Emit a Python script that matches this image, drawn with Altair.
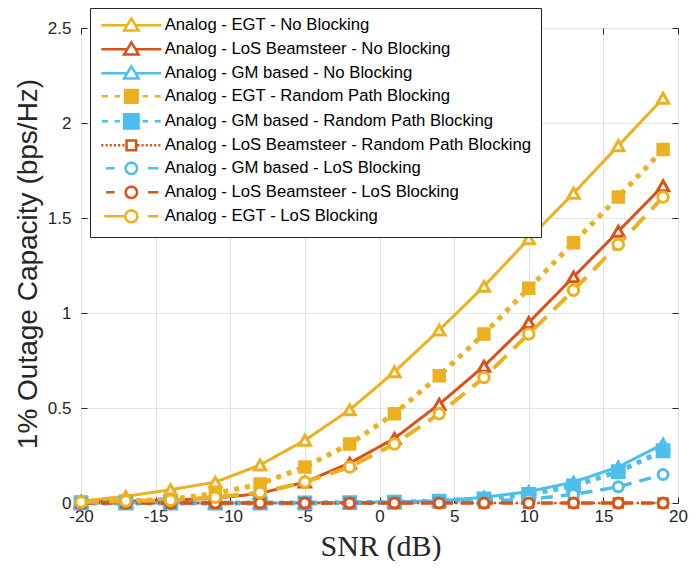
import math
import altair as alt
import pandas as pd

# ---------------- data ----------------
snr = [-20, -17, -14, -11, -8, -5, -2, 1, 4, 7, 10, 13, 16, 19]

series_names = [
    "Analog - EGT - No Blocking",
    "Analog - LoS Beamsteer - No Blocking",
    "Analog - GM based - No Blocking",
    "Analog - EGT - Random Path Blocking",
    "Analog - GM based - Random Path Blocking",
    "Analog - LoS Beamsteer - Random Path Blocking",
    "Analog - GM based - LoS Blocking",
    "Analog - LoS Beamsteer - LoS Blocking",
    "Analog - EGT - LoS Blocking",
]

egt_nb = [0.01, 0.035, 0.07, 0.11, 0.20, 0.33, 0.49, 0.69, 0.91, 1.14, 1.39, 1.63, 1.88, 2.13]
los_nb = [0.005, 0.01, 0.015, 0.025, 0.05, 0.11, 0.21, 0.34, 0.52, 0.72, 0.95, 1.19, 1.43, 1.67]
gm_nb = [0.0, 0.0, 0.0, 0.0, 0.0, 0.0, 0.003, 0.006, 0.012, 0.03, 0.06, 0.11, 0.19, 0.31]
egt_rp = [0.005, 0.01, 0.02, 0.05, 0.10, 0.19, 0.31, 0.47, 0.67, 0.89, 1.13, 1.37, 1.61, 1.86]
gm_rp = [0.0, 0.0, 0.0, 0.0, 0.0, 0.0, 0.002, 0.004, 0.01, 0.022, 0.045, 0.09, 0.165, 0.275]
los_rp = [0.0, 0.0, 0.0, 0.0, 0.0, 0.0, 0.0, 0.0, 0.0, 0.0, 0.0, 0.0, 0.0, 0.0]
gm_lb = [0.0, 0.0, 0.0, 0.0, 0.0, 0.0, 0.001, 0.002, 0.004, 0.01, 0.02, 0.045, 0.085, 0.15]
los_lb = [0.0, 0.0, 0.0, 0.0, 0.0, 0.0, 0.0, 0.0, 0.0, 0.0, 0.0, 0.0, 0.0, 0.0]
egt_lb = [0.005, 0.01, 0.015, 0.03, 0.055, 0.11, 0.19, 0.31, 0.47, 0.66, 0.89, 1.12, 1.36, 1.61]

series_values = [egt_nb, los_nb, gm_nb, egt_rp, gm_rp, los_rp, gm_lb, los_lb, egt_lb]

x_ticks = [-20, -15, -10, -5, 0, 5, 10, 15, 20]
y_ticks = [0, 0.5, 1, 1.5, 2, 2.5]

rows = []
for name, vals in zip(series_names, series_values):
    for s, v in zip(snr, vals):
        rows.append({"series": name, "snr": s, "cap": v})
df = pd.DataFrame(rows)

# ---------------- styles ----------------
YEL = "#EDB120"
ORA = "#D95319"
BLU = "#4DBEEE"
AX = "#262626"

colors = [YEL, ORA, BLU, YEL, BLU, ORA, BLU, ORA, YEL]
line_dash = [[1, 0], [1, 0], [1, 0], [5, 6], [5, 6], [2.5, 3], [12, 8], [12, 8], [18, 10]]
line_width = [3, 3, 3, 5, 5, 2.5, 3.5, 3.5, 4]
shapes = ["triangle-up", "triangle-up", "triangle-up", "square", "square", "square",
          "circle", "circle", "circle"]
fills = ["white", "white", "white", YEL, BLU, "white", "white", "white", "white"]
msize = [130, 130, 130, 110, 140, 80, 100, 100, 110]
mstroke = [3, 3, 3, 3, 3, 2.5, 3, 3, 3]

# legend symbol paths (unit = symbol radius), line from -1 to 9, marker at 4
def seg(a, b):
    return f"M{a:.2f},0H{b:.2f}"

def dots(a, b, on, off):
    out = []
    x = a
    while x < b - 1e-6:
        out.append(seg(x, min(x + on, b)))
        x += on + off
    return "".join(out)

def tri(c=4.0, h=1.2):
    return f"M{c:.2f},{-1.15:.2f}L{c + h:.2f},0.85L{c - h:.2f},0.85Z"

def sq(c=4.0, h=1.0):
    return f"M{c - h:.2f},{-h:.2f}H{c + h:.2f}V{h:.2f}H{c - h:.2f}Z"

def circ(c=4.0, r=0.95, n=20):
    pts = []
    for i in range(n):
        a = 2 * math.pi * i / n
        pts.append((c + r * math.cos(a), r * math.sin(a)))
    return "M" + "L".join(f"{x:.3f},{y:.3f}" for x, y in pts) + "Z"

legend_paths = [
    seg(-1, 3.31) + seg(4.69, 9) + tri(),
    seg(-1, 3.31) + seg(4.69, 9) + tri(),
    seg(-1, 3.31) + seg(4.69, 9) + tri(),
    seg(-0.9, 0.1) + seg(1.2, 2.1) + seg(5.9, 6.8) + seg(7.9, 8.9) + sq(h=1.05),
    seg(-0.9, 0.1) + seg(1.2, 2.1) + seg(5.9, 6.8) + seg(7.9, 8.9) + sq(h=1.2),
    dots(-1, 3.1, 0.35, 0.35) + dots(5.0, 9.1, 0.35, 0.35) + sq(h=0.8),
    seg(-0.2, 1.2) + seg(6.8, 8.5) + circ(),
    seg(-0.2, 1.2) + seg(6.8, 8.5) + circ(),
    seg(-0.5, 3.0) + seg(6.8, 8.5) + circ(r=1.0),
]

W, H = 597, 475
TICK = 6

x_scale = alt.Scale(domain=[-20, 20], nice=False, zero=False)
y_scale = alt.Scale(domain=[0, 2.5], nice=False)

x_axis = alt.Axis(values=x_ticks, title="SNR (dB)", labelExpr="'' + datum.value",
                  offset=-TICK, tickSize=TICK, labelPadding=5, labelFlush=False,
                  titleFont="Liberation Serif", titleFontSize=30, titleFontWeight="normal",
                  titleColor=AX, titleBaseline="alphabetic", titleX=W / 2 + 1,
                  titleY=58, titleAlign="center")
y_axis = alt.Axis(values=y_ticks, title="1% Outage Capacity (bps/Hz)", labelExpr="'' + datum.value",
                  offset=-TICK, tickSize=TICK, labelPadding=10, labelFlush=False,
                  titleFont="Liberation Sans", titleFontSize=28, titleFontWeight="normal",
                  titleColor=AX, titleBaseline="alphabetic", titleAngle=270,
                  titleX=-45 - TICK, titleY=H / 2 - 2, titleAlign="center")
x_top = alt.Axis(values=x_ticks, orient="top", offset=-TICK, tickSize=TICK, labels=False,
                 grid=False, title=None)
y_right = alt.Axis(values=y_ticks, orient="right", offset=-TICK, tickSize=TICK, labels=False,
                   grid=False, title=None)

base = alt.Chart(df)
layers = []
for i, name in enumerate(series_names):
    sub = base.transform_filter(alt.datum.series == name)
    X = alt.X("snr:Q", scale=x_scale, axis=x_axis if i == 0 else None)
    Y = alt.Y("cap:Q", scale=y_scale, axis=y_axis if i == 0 else None)
    layers.append(
        sub.mark_line(color=colors[i], strokeWidth=line_width[i], strokeDash=line_dash[i],
                      strokeCap="butt")
        .encode(x=X, y=Y)
    )
    layers.append(
        sub.mark_point(shape=shapes[i], size=msize[i], filled=True, fill=fills[i],
                       stroke=colors[i], strokeWidth=mstroke[i], opacity=1)
        .encode(x=alt.X("snr:Q", scale=x_scale, axis=None),
                y=alt.Y("cap:Q", scale=y_scale, axis=None))
    )

legend_layer = base.transform_filter("false").mark_point(filled=True, opacity=1, strokeWidth=2.5).encode(
    x=alt.X("snr:Q", scale=x_scale, axis=x_top),
    y=alt.Y("cap:Q", scale=y_scale, axis=y_right),
    shape=alt.Shape("series:N", scale=alt.Scale(domain=series_names, range=legend_paths),
                    legend=alt.Legend(title=None, orient="none", legendX=9, legendY=-20,
                                      fillColor="white", strokeColor=AX, padding=9,
                                      symbolSize=144, symbolStrokeWidth=2.5, labelOffset=49,
                                      labelFont="Liberation Sans", labelFontSize=16.7,
                                      labelColor="#000000", rowPadding=1, labelLimit=500,
                                      symbolOffset=0)),
    stroke=alt.Stroke("series:N", scale=alt.Scale(domain=series_names, range=colors), legend=alt.Legend(title=None)),
    fill=alt.Fill("series:N", scale=alt.Scale(domain=series_names, range=fills), legend=alt.Legend(title=None)),
)

chart = alt.layer(*layers, legend_layer).resolve_axis(x="independent", y="independent").properties(
    width=W, height=H,
    padding={"left": 73, "top": 20, "right": 10, "bottom": 58},
    autosize=alt.AutoSizeParams(type="none"),
).configure_view(stroke=AX, strokeWidth=1).configure_axis(
    labelFont="Liberation Sans", labelFontSize=17, labelColor=AX,
    gridColor="#e3e3e3", gridWidth=1, domain=False, tickColor=AX, tickWidth=1,
)

chart.save("out.html", embed_options={"renderer": "svg", "actions": False})
